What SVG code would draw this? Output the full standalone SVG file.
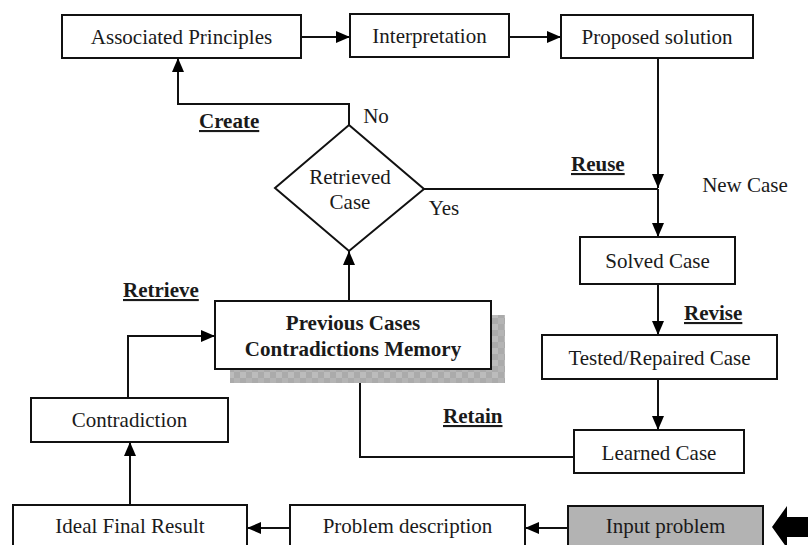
<svg xmlns="http://www.w3.org/2000/svg" width="808" height="545" viewBox="0 0 808 545">
<defs>
<marker id="arr" markerUnits="userSpaceOnUse" markerWidth="14" markerHeight="12" refX="14" refY="6" orient="auto">
<path d="M0,0 L14,6 L0,12 z" fill="#000"/>
</marker>
<pattern id="shade" patternUnits="userSpaceOnUse" width="12" height="12">
<rect width="12" height="12" fill="#ababab"/>
<rect x="0" y="0" width="6" height="6" fill="#bcbcbc"/>
<rect x="6" y="6" width="6" height="6" fill="#b4b4b4"/>
</pattern>
</defs>
<style>
.box{fill:#fff;stroke:#111;stroke-width:2}
.t{font-family:"Liberation Serif","Times New Roman",serif;font-size:21px;fill:#1a1a1a;text-anchor:middle}
.b{font-family:"Liberation Serif","Times New Roman",serif;font-size:21px;font-weight:bold;fill:#1a1a1a}
.u{text-decoration:underline}
.c{fill:none;stroke:#111;stroke-width:2}
</style>
<rect width="808" height="545" fill="#fff"/>

<g id="connectors">
<path class="c" d="M301,37 H350" marker-end="url(#arr)"/>
<path class="c" d="M509,37 H561" marker-end="url(#arr)"/>
<path class="c" d="M658,58 V188" marker-end="url(#arr)"/>
<path class="c" d="M424,189 H658"/>
<path class="c" d="M658,189 V237" marker-end="url(#arr)"/>
<path class="c" d="M658,284 V335" marker-end="url(#arr)"/>
<path class="c" d="M658,379 V430" marker-end="url(#arr)"/>
<path class="c" d="M574,457 H360 V369" marker-end="url(#arr)"/>
<path class="c" d="M349,301 V251" marker-end="url(#arr)"/>
<path class="c" d="M349,125 V104 H178 V58" marker-end="url(#arr)"/>
<path class="c" d="M128,398 V336 H215" marker-end="url(#arr)"/>
<path class="c" d="M130,505 V442" marker-end="url(#arr)"/>
<path class="c" d="M290,528 H247" marker-end="url(#arr)"/>
<path class="c" d="M568,528 H525" marker-end="url(#arr)"/>
<polygon points="772,527 787,506 787,517 808,517 808,537 787,537 787,548" fill="#000"/>
</g>

<g id="labels">
<text class="b u" x="199" y="128">Create</text>
<text class="t" x="376" y="123">No</text>
<text class="t" x="444" y="215">Yes</text>
<text class="b u" x="571" y="171">Reuse</text>
<text class="t" x="745" y="192">New Case</text>
<text class="b u" x="684" y="320">Revise</text>
<text class="b u" x="123" y="297">Retrieve</text>
<text class="b u" x="443" y="423">Retain</text>
</g>

<g id="associated-principles">
<rect class="box" x="62" y="15" width="239" height="43"/>
<text class="t" x="181.5" y="44">Associated Principles</text>
</g>
<g id="interpretation">
<rect class="box" x="350" y="14" width="159" height="43"/>
<text class="t" x="429.5" y="43">Interpretation</text>
</g>
<g id="proposed-solution">
<rect class="box" x="561" y="15" width="192" height="43"/>
<text class="t" x="657" y="44">Proposed solution</text>
</g>
<g id="retrieved-case">
<polygon class="box" points="349,125 424,189 349,251 275,188"/>
<text class="t" x="350" y="184">Retrieved</text>
<text class="t" x="350" y="209">Case</text>
</g>
<g id="solved-case">
<rect class="box" x="580" y="237" width="155" height="47"/>
<text class="t" x="657.5" y="268">Solved Case</text>
</g>
<g id="tested-repaired-case">
<rect class="box" x="542" y="335" width="235" height="44"/>
<text class="t" x="659.5" y="365">Tested/Repaired Case</text>
</g>
<g id="learned-case">
<rect class="box" x="574" y="430" width="170" height="43"/>
<text class="t" x="659" y="460">Learned Case</text>
</g>
<g id="previous-cases">
<rect x="230" y="315" width="275" height="68" fill="url(#shade)"/>
<rect class="box" x="215" y="301" width="276" height="68"/>
<text class="b" x="353" y="330" text-anchor="middle">Previous Cases</text>
<text class="b" x="353" y="356" text-anchor="middle">Contradictions Memory</text>
</g>
<g id="contradiction">
<rect class="box" x="31" y="398" width="197" height="44"/>
<text class="t" x="129.5" y="427">Contradiction</text>
</g>
<g id="ideal-final-result">
<rect class="box" x="13" y="505" width="234" height="50"/>
<text class="t" x="130" y="533">Ideal Final Result</text>
</g>
<g id="problem-description">
<rect class="box" x="290" y="505" width="235" height="50"/>
<text class="t" x="407.5" y="533">Problem description</text>
</g>
<g id="input-problem">
<rect class="box" x="568" y="506" width="195" height="50" style="fill:#b3b3b3"/>
<text class="t" x="665.5" y="533">Input problem</text>
</g>
</svg>
